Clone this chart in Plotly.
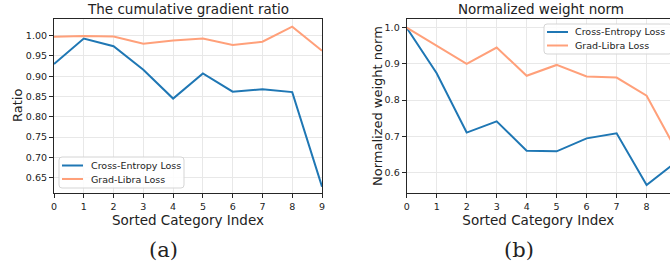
import plotly.graph_objects as go

x_idx = list(range(10))
x_ticks = [str(i) for i in x_idx]

# Panel (a): cumulative gradient ratio
ratio_ce = [0.930, 0.993, 0.974, 0.916, 0.845, 0.907, 0.862, 0.868, 0.861, 0.628]
ratio_gl = [0.997, 0.999, 0.998, 0.980, 0.988, 0.993, 0.977, 0.985, 1.022, 0.963]
ratio_ticks = [0.65, 0.70, 0.75, 0.80, 0.85, 0.90, 0.95, 1.00]

# Panel (b): normalized weight norm
norm_ce = [1.000, 0.874, 0.710, 0.741, 0.660, 0.658, 0.694, 0.708, 0.565, 0.630]
norm_gl = [1.000, 0.950, 0.900, 0.945, 0.867, 0.897, 0.865, 0.862, 0.812, 0.660]
norm_ticks = [0.6, 0.7, 0.8, 0.9, 1.0]

series_names = ["Cross-Entropy Loss", "Grad-Libra Loss"]

CE_COLOR = "#1f77b4"
GL_COLOR = "#ffa07a"
COLORS = [CE_COLOR, GL_COLOR]
FONT = "DejaVu Sans"
W, H = 670, 270

fig = go.Figure()
for ys, xa, ya in [((ratio_ce, ratio_gl), "x", "y"), ((norm_ce, norm_gl), "x2", "y2")]:
    for name, col, y in zip(series_names, COLORS, ys):
        fig.add_trace(go.Scatter(x=x_idx, y=y, mode="lines", name=name,
                                 line=dict(color=col, width=2), xaxis=xa, yaxis=ya,
                                 showlegend=False))

axis_common = dict(
    showline=True, linecolor="#262626", linewidth=1.2, mirror=True,
    ticks="outside", ticklen=4, tickwidth=1, tickcolor="#262626",
    showgrid=True, gridcolor="#e8e8e8", gridwidth=1, zeroline=False,
    tickfont=dict(family=FONT, size=9.5, color="#222222"),
    automargin=False,
)


def px(x):
    return x / W


def py(y):
    return 1 - y / H


def rounded_box(x0, y0, x1, y1, r=3):
    # pixel coords -> paper path with rounded corners
    rx, ry = r / W, r / H
    X0, X1 = px(x0), px(x1)
    Y0, Y1 = py(y0), py(y1)  # Y0 top (larger), Y1 bottom
    return (f"M {X0+rx},{Y0} L {X1-rx},{Y0} Q {X1},{Y0} {X1},{Y0-ry} "
            f"L {X1},{Y1+ry} Q {X1},{Y1} {X1-rx},{Y1} L {X0+rx},{Y1} "
            f"Q {X0},{Y1} {X0},{Y1+ry} L {X0},{Y0-ry} Q {X0},{Y0} {X0+rx},{Y0} Z")


shapes = []
annotations = []


def add_legend(box, line_x0, line_x1, text_x, rows_y):
    x0, y0, x1, y1 = box
    shapes.append(dict(type="path", path=rounded_box(x0, y0, x1, y1), xref="paper", yref="paper",
                       fillcolor="rgba(255,255,255,0.85)", line=dict(color="#d5d5d5", width=1)))
    for name, col, ry in zip(series_names, COLORS, rows_y):
        shapes.append(dict(type="line", xref="paper", yref="paper", x0=px(line_x0), x1=px(line_x1),
                           y0=py(ry), y1=py(ry), line=dict(color=col, width=2)))
        annotations.append(dict(text=name, x=px(text_x), y=py(ry), xref="paper", yref="paper",
                                showarrow=False, xanchor="left", yanchor="middle",
                                font=dict(family=FONT, size=9.5, color="#222222")))


add_legend((59, 157, 184, 188), 62, 83, 89, (165.5, 179))
add_legend((544, 24, 672, 54), 547, 568, 573, (32, 45.5))

annotations += [
    dict(text="The cumulative gradient ratio", x=0.2806, y=0.965, xref="paper", yref="paper",
         showarrow=False, font=dict(size=13.5), xanchor="center", yanchor="middle"),
    dict(text="Normalized weight norm", x=0.8075, y=0.965, xref="paper", yref="paper",
         showarrow=False, font=dict(size=13.5), xanchor="center", yanchor="middle"),
    dict(text="Ratio", x=px(17), y=py(106), xref="paper", yref="paper", showarrow=False,
         textangle=-90, font=dict(size=13), xanchor="center", yanchor="middle"),
    dict(text="Normalized weight norm", x=px(377), y=py(106), xref="paper", yref="paper",
         showarrow=False, textangle=-90, font=dict(size=13), xanchor="center", yanchor="middle"),
    dict(text="(a)", x=px(163), y=py(250), xref="paper", yref="paper", showarrow=False,
         font=dict(family="DejaVu Serif", size=21), xanchor="center", yanchor="middle"),
    dict(text="(b)", x=px(519), y=py(250), xref="paper", yref="paper", showarrow=False,
         font=dict(family="DejaVu Serif", size=21), xanchor="center", yanchor="middle"),
]

ydom = [0.284, 0.9296]

fig.update_layout(
    width=W, height=H,
    margin=dict(l=0, r=0, t=0, b=0, autoexpand=False),
    paper_bgcolor="white", plot_bgcolor="white",
    font=dict(family=FONT, color="#222222"),
    showlegend=False,
    xaxis=dict(domain=[0.0806, 0.4806], range=[0, 9], tickvals=x_idx, ticktext=x_ticks,
               anchor="y", title=dict(text="Sorted Category Index", font=dict(size=13.5), standoff=4),
               **axis_common),
    yaxis=dict(domain=ydom, range=[0.6116, 1.041], tickvals=ratio_ticks, tickformat=".2f",
               anchor="x", **axis_common),
    xaxis2=dict(domain=[0.607, 1.0], range=[0, 8.78], tickvals=x_idx, ticktext=x_ticks,
                anchor="y2", title=dict(text="Sorted Category Index", font=dict(size=13.5), standoff=4),
                **axis_common),
    yaxis2=dict(domain=ydom, range=[0.542, 1.024], tickvals=norm_ticks, tickformat=".1f",
                anchor="x2", **axis_common),
    shapes=shapes,
    annotations=annotations,
)

fig.write_html("out.html", config={"displayModeBar": False},
               post_script="document.body.style.margin='0';")
